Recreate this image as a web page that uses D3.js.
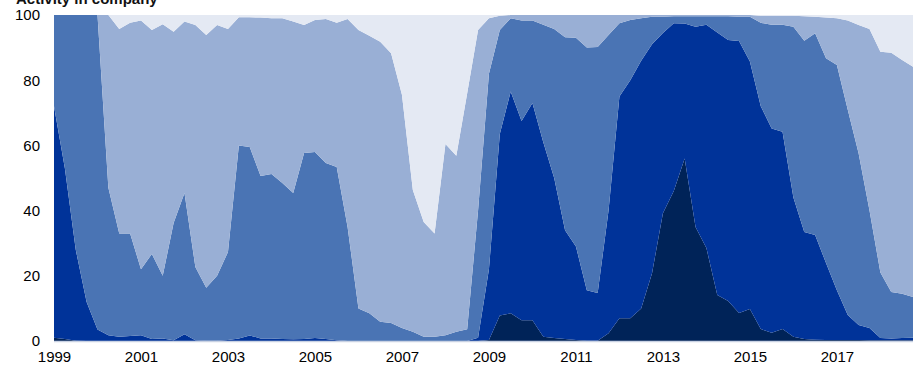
<!DOCTYPE html>
<html>
<head>
<meta charset="utf-8">
<script src="https://cdn.jsdelivr.net/npm/d3@7"></script>
<style>
  body { margin: 0; background: #fff; }
  svg { display: block; font-family: "Liberation Sans", Arial, sans-serif; }
</style>
</head>
<body>
<div id="chart"></div>
<script>
// quarterly, 1999Q1 .. 2018Q4, shares in % (stacked to 100)
let quarters = [];
for (let yr = 1999; yr <= 2018; yr++) {
  for (let q = 1; q <= 4; q++) quarters.push(yr + "Q" + q);
}
let tickLabels = ["1999", "2001", "2003", "2005", "2007", "2009", "2011", "2013", "2015", "2017"];
let yTicks = [0, 20, 40, 60, 80, 100];

let seriesA = [1.0,0.6,0.1,0,0,0,0,0,0,0, 0,0,0,0,0,0,0,0,0,0,
  0,0,0,0,0,0,0,0,0,0, 0,0,0,0,0,0,0,0,0,0,
  0.3,7.8,8.5,6.4,6.4,1.3,0.9,0.6,0.3,0.1, 0.1,2.4,7,7,10,20.8,39.2,46,56,35,
  28.5,14.1,12.3,8.6,9.8,3.7,2.5,3.7,1.3,0.6, 0.4,0.3,0.3,0.3,0.3,0.2,0.2,0.2,0.2,0.2];
let seriesB = [71,52.4,27.9,12,3.5,1.8,1.3,1.5,1.8,0.6, 0.8,0.2,2.1,0.2,0.1,0.1,0.3,0.8,1.7,0.8,
  0.8,0.6,0.5,0.6,0.9,0.6,0.2,0,0,0, 0,0,0,0,0,0,0,0,0,1,
  21.7,55.7,68,61.1,66.6,59.7,49.1,33.4,28.7,15.5, 14.6,37.6,68,73,76,70.2,55.3,51.5,41.4,61.4,
  68.5,80.5,80,83.4,75.9,68.3,62.7,60.5,42.7,32.8, 32.1,23.6,15.3,7.7,4.6,3.8,0.7,0.6,0.7,0.8];
let seriesC = [28,47,72,88,96.5,45.2,31.7,31.5,20.2,26.1, 19.2,36,43.3,22.5,16.2,19.9,27,59.2,57.8,49.8,
  50.4,47.9,44.9,57.1,57.1,54,53.2,35,10,8.5, 5.9,5.5,4,2.8,1.3,1.3,1.8,2.8,3.6,39,
  60,31.9,22.5,30.8,25.3,36,45.7,59.2,64,74.4, 75.5,53.9,22.5,18.5,13,8.5,5,2.1,2.2,3.2,
  2.6,5,7.3,7.5,13.8,25.6,31.8,32.8,52.4,58.7, 61.9,62.8,69.1,62.9,52.6,36,20.1,14.2,13.6,12.5];
let seriesD = [0,0,0,0,0,53,62.7,64.6,76.3,68.7, 77.2,58.7,52.6,74.2,77.6,76.9,68.4,39.3,39.8,48.6,
  47.8,50.5,52.6,39.2,40.5,44.2,44.2,63.8,85.4,85.1, 85.9,82.8,71.5,43.5,35.2,31.7,58.6,54,72.4,55.4,
  17,4.4,1,1.7,1.7,3,4.3,6.8,7,10, 9.8,6.1,2.5,1.5,1,0.5,0.5,0.4,0.4,0.4,
  0.4,0.4,0.4,0.5,0.5,2.2,2.8,2.8,3.4,7.5, 5.1,12.5,14.3,27.4,39.4,55.7,67.7,73.4,71.7,70.6];
let seriesE = [0,0,0,0,0,0,4.3,2.4,1.7,4.6, 2.8,5.1,2,3.1,6.1,3.1,4.3,0.7,0.7,0.8,
  1,1,2,3.1,1.5,1.2,2.4,1.2,4.6,6.4, 8.2,11.7,24.5,53.7,63.5,67,39.6,43.2,24,4.6,
  1,0.2,0,0,0,0,0,0,0,0, 0,0,0,0,0,0,0,0,0,0,
  0,0,0,0,0,0.2,0.2,0.2,0.2,0.4, 0.5,0.8,1,1.7,3.1,4.3,11.3,11.6,13.8,15.9];

let keys = ["a", "b", "c", "d", "e"];
let colors = ["#002358", "#003399", "#4a74b4", "#99afd5", "#e4e9f3"];

let width = 915, height = 369;
let margin = {top: 15, right: 2, bottom: 28, left: 54};

let rows = quarters.map((q, i) => ({
  q: q, a: seriesA[i], b: seriesB[i], c: seriesC[i], d: seriesD[i], e: seriesE[i]
}));

let x = d3.scalePoint()
  .domain(quarters)
  .range([margin.left, width - margin.right]);
let y = d3.scaleLinear()
  .domain([0, 100])
  .range([height - margin.bottom, margin.top]);

let stacked = d3.stack().keys(keys)(rows);

let area = d3.area()
  .x(d => x(d.data.q))
  .y0(d => y(d[0]))
  .y1(d => y(d[1]));

let svg = d3.select("#chart").append("svg")
  .attr("width", width)
  .attr("height", height);

// title, only its lower part is inside the frame (as in the source)
svg.append("text")
  .attr("x", 16)
  .attr("y", 4)
  .attr("font-size", 15)
  .attr("font-weight", "bold")
  .attr("fill", "#111")
  .text("Activity in company");

svg.append("g")
  .selectAll("path")
  .data(stacked)
  .join("path")
  .attr("fill", (d, i) => colors[i])
  .attr("d", area);

// baseline
svg.append("line")
  .attr("x1", margin.left)
  .attr("x2", width - margin.right)
  .attr("y1", y(0) + 0.5)
  .attr("y2", y(0) + 0.5)
  .attr("stroke", "#c9d2e3")
  .attr("stroke-width", 1.5);

// y axis labels
let yAxis = d3.axisLeft(y)
  .tickValues(yTicks)
  .tickSize(0)
  .tickPadding(14);
svg.append("g")
  .attr("transform", "translate(" + margin.left + ",0)")
  .call(yAxis)
  .call(g => g.select(".domain").remove())
  .selectAll("text")
  .attr("font-size", 15)
  .attr("font-family", "Liberation Sans, Arial, sans-serif")
  .attr("fill", "#000");

// x axis labels, every second year at Q1
let xAxis = d3.axisBottom(x)
  .tickValues(tickLabels.map(t => t + "Q1"))
  .tickFormat(d => d.slice(0, 4))
  .tickSize(0)
  .tickPadding(10);
svg.append("g")
  .attr("transform", "translate(0," + y(0) + ")")
  .call(xAxis)
  .call(g => g.select(".domain").remove())
  .selectAll("text")
  .attr("font-size", 15)
  .attr("font-family", "Liberation Sans, Arial, sans-serif")
  .attr("fill", "#000");
</script>
</body>
</html>
